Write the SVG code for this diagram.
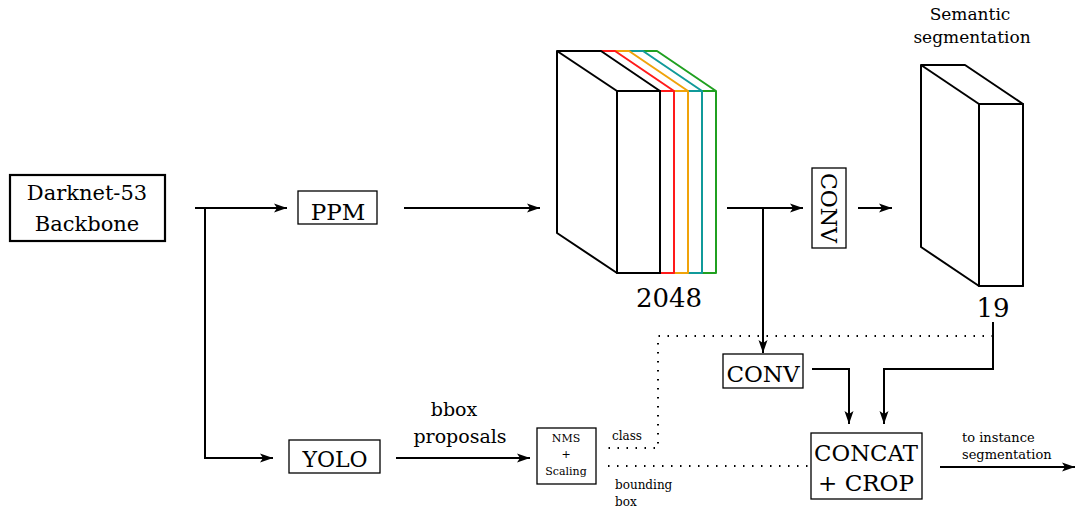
<svg xmlns="http://www.w3.org/2000/svg" width="1075" height="513" viewBox="0 0 1075 513">
<defs>
<marker id="ah" markerUnits="userSpaceOnUse" markerWidth="14" markerHeight="10" refX="13" refY="5" orient="auto">
<path d="M0,0.5 L13,5 L0,9.5 L3,5 Z" fill="#000"/>
</marker>
</defs>
<style>
text{font-family:"DejaVu Serif","Liberation Serif",serif;fill:#000}
.box{fill:#fff;stroke:#000;stroke-width:1.3}
.blk{fill:#fff;stroke:#000;stroke-width:2;stroke-linejoin:round}
.ln{fill:none;stroke:#000;stroke-width:2}
.dot{fill:none;stroke:#000;stroke-width:2;stroke-dasharray:1.5 7.5;stroke-linecap:butt}
.sl{fill:none;stroke-width:2;stroke-linejoin:round}
</style>
<rect width="1075" height="513" fill="#fff"/>

<g id="connectors">
<polyline class="ln" points="195,208 287,208" marker-end="url(#ah)"/>
<polyline class="ln" points="205,208 205,458 273,458" marker-end="url(#ah)"/>
<polyline class="ln" points="404,208 540,208" marker-end="url(#ah)"/>
<polyline class="ln" points="396,458 530,458" marker-end="url(#ah)"/>
<polyline class="ln" points="727,208 803,208" marker-end="url(#ah)"/>
<polyline class="ln" points="763,208 763,353" marker-end="url(#ah)"/>
<polyline class="ln" points="858,208 892,208" marker-end="url(#ah)"/>
<polyline class="ln" points="993,322 993,369 884,369 884,424" marker-end="url(#ah)"/>
<polyline class="ln" points="812,369 849,369 849,424" marker-end="url(#ah)"/>
<polyline class="ln" points="940,467 1075,467" marker-end="url(#ah)"/>
<polyline class="dot" points="993,336 658,336 658,448 608,448"/>
<polyline class="dot" points="608,466 810,466"/>
</g>

<g id="darknet">
<rect x="10" y="175" width="155" height="66" fill="#fff" stroke="#000" stroke-width="2.2"/>
<text x="87" y="200" font-size="21" text-anchor="middle">Darknet-53</text>
<text x="87" y="231" font-size="21" text-anchor="middle">Backbone</text>
</g>

<g id="ppm">
<rect class="box" x="298" y="191" width="79" height="33"/>
<text x="338" y="220" font-size="23" text-anchor="middle">PPM</text>
</g>

<g id="yolo">
<rect class="box" x="289" y="440" width="91" height="33"/>
<text x="335" y="467" font-size="22" text-anchor="middle">YOLO</text>
</g>

<g id="bbox-label">
<text x="454" y="416" font-size="19" text-anchor="middle">bbox</text>
<text x="460" y="443" font-size="19" text-anchor="middle">proposals</text>
</g>

<g id="feature-2048">
<polyline class="sl" stroke="#20a020" points="643,51 657,51 716,91 716,273 702,273"/>
<line class="sl" stroke="#20a020" x1="702" y1="91" x2="716" y2="91"/>
<polyline class="sl" stroke="#109a9a" points="629,51 643,51 702,91 702,273 688,273"/>
<line class="sl" stroke="#109a9a" x1="688" y1="91" x2="702" y2="91"/>
<polyline class="sl" stroke="#f0a30a" points="615,51 629,51 688,91 688,273 674,273"/>
<line class="sl" stroke="#f0a30a" x1="674" y1="91" x2="688" y2="91"/>
<polyline class="sl" stroke="#ff1a1a" points="601,51 615,51 674,91 674,273 660,273"/>
<line class="sl" stroke="#ff1a1a" x1="660" y1="91" x2="674" y2="91"/>
<polygon class="blk" points="557,51 601,51 660,91 660,273 617,273 557,233"/>
<line class="ln" x1="557" y1="51" x2="617" y2="91"/>
<rect class="blk" x="617" y="91" width="43" height="182"/>
<text x="669" y="307" font-size="26" text-anchor="middle">2048</text>
</g>

<g id="conv-top">
<rect class="box" x="812" y="168" width="34" height="80"/>
<text transform="translate(821,208) rotate(90)" font-size="22" text-anchor="middle">CONV</text>
</g>

<g id="semantic">
<text x="970" y="20" font-size="17" text-anchor="middle">Semantic</text>
<text x="972" y="43" font-size="17" text-anchor="middle">segmentation</text>
<polygon class="blk" points="921,65 965,65 1023,104 1023,286 979,286 921,247"/>
<line class="ln" x1="921" y1="65" x2="979" y2="104"/>
<rect class="blk" x="979" y="104" width="44" height="182"/>
<text x="993" y="317" font-size="26" text-anchor="middle">19</text>
</g>

<g id="conv-bottom">
<rect class="box" x="723" y="354" width="80" height="34"/>
<text x="763" y="382" font-size="23" text-anchor="middle">CONV</text>
</g>

<g id="nms">
<rect class="box" x="537" y="428" width="59" height="56"/>
<text x="566" y="442" font-size="11" text-anchor="middle">NMS</text>
<text x="566" y="458" font-size="11" text-anchor="middle">+</text>
<text x="566" y="475" font-size="11" text-anchor="middle">Scaling</text>
</g>

<g id="labels">
<text x="612" y="440" font-size="12">class</text>
<text x="615" y="489" font-size="12">bounding</text>
<text x="615" y="506" font-size="12">box</text>
<text x="962" y="442" font-size="13">to instance</text>
<text x="962" y="459" font-size="13">segmentation</text>
</g>

<g id="concat">
<rect class="box" x="811" y="433" width="111" height="66"/>
<text x="866" y="461" font-size="23" text-anchor="middle" textLength="104" lengthAdjust="spacingAndGlyphs">CONCAT</text>
<text x="866" y="491" font-size="23" text-anchor="middle">+ CROP</text>
</g>
</svg>
